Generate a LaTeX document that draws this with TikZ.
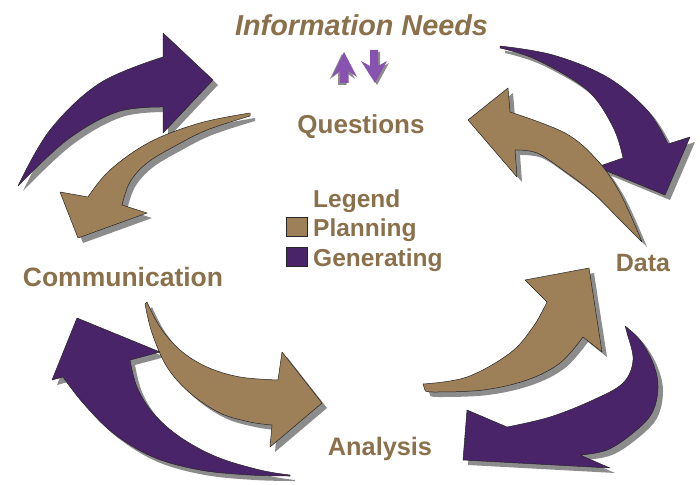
\documentclass[tikz,border=0pt]{standalone}
\usepackage{fontspec}
\setmainfont{Liberation Sans}
\definecolor{textc}{RGB}{138,113,76}
\definecolor{tanc}{RGB}{157,127,88}
\definecolor{purc}{RGB}{74,36,104}
\definecolor{lpurc}{RGB}{136,82,176}
\definecolor{shdc}{RGB}{140,140,140}
\tikzset{
  shd/.style={fill=shdc},
  planarrow/.style={fill=tanc,draw=black!85,line width=0.5pt,line join=round},
  genarrow/.style={fill=purc,draw=black!85,line width=0.5pt,line join=round},
  smallarrow/.style={fill=lpurc},
  lbl/.style={text=textc,font=\bfseries\fontsize{26}{28}\selectfont,inner sep=0pt,anchor=base},
  leg/.style={text=textc,font=\bfseries\fontsize{24.5}{26}\selectfont,inner sep=0pt,anchor=base west},
  legbox/.style={draw=black!85,line width=0.6pt}
}
% top-left purple
\newcommand\DrawArrA[1]{\path[#1] plot[smooth,tension=.6] coordinates {(18,186)(50,130)(100,83)(163,57)} -- (163,33) -- (213,80) -- (163,133) -- plot[smooth,tension=.6] coordinates {(163,107)(117,112)(67,140)(18,186)} -- cycle;}
% top-left tan
\newcommand\DrawArrB[1]{\path[#1] plot[smooth,tension=.6] coordinates {(250,113)(200,123)(150,142)(110,170)(88,197)} -- (60,192) -- (78,238) -- (147,213) -- plot[smooth,tension=.6] coordinates {(122,205)(130,182)(147,163)(175,146)(207,130)(250,116)} -- cycle;}
% top-right purple
\newcommand\DrawArrC[1]{\path[#1] plot[smooth,tension=.6] coordinates {(500,46)(553,55)(607,77)(647,110)(668,144)} -- (690,137) -- (665,195) -- (597,167) -- plot[smooth,tension=.6] coordinates {(623,158)(613,127)(587,90)(537,60)(500,48)} -- cycle;}
% top-right tan
\newcommand\DrawArrD[1]{\path[#1] plot[smooth,tension=.6] coordinates {(642,242)(620,193)(597,160)(565,133)(510,112)} -- (508,88) -- (468,120) -- (517,177) -- plot[smooth,tension=.6] coordinates {(515,150)(537,153)(563,170)(593,193)(620,220)(642,242)} -- cycle;}
% bottom-right tan
\newcommand\DrawArrE[1]{\path[#1] plot[smooth,tension=.6] coordinates {(423,384)(467,377)(510,353)(533,327)(547,302)} -- (525,280) -- (589,268) -- (602,352) -- plot[smooth,tension=.6] coordinates {(583,337)(560,363)(527,380)(483,390)(433,392)(425,390)} -- cycle;}
% bottom-right purple
\newcommand\DrawArrF[1]{\path[#1] plot[smooth,tension=.6] coordinates {(625,326)(640,340)(653,363)(658,387)(652,413)(633,433)(607,450)(580,455)} -- (610,468) -- (463,460) -- (467,410) -- plot[smooth,tension=.6] coordinates {(507,427)(550,417)(593,400)(623,383)(633,360)(627,333)(625,326)} -- cycle;}
% bottom-left tan
\newcommand\DrawArrG[1]{\path[#1] plot[smooth,tension=.6] coordinates {(147,302)(160,327)(180,350)(207,367)(240,377)(278,380)} -- (282,352) -- (322,403) -- (270,447) -- plot[smooth,tension=.6] coordinates {(272,425)(250,422)(220,413)(190,393)(167,367)(152,333)(145,304)} -- cycle;}
% bottom-left purple
\newcommand\DrawArrH[1]{\path[#1] plot[smooth,tension=.6] coordinates {(290,475)(260,470)(217,457)(180,437)(153,413)(137,387)(130,360)} -- (160,352) -- (77,318) -- (52,380) -- plot[smooth,tension=.6] coordinates {(63,377)(83,403)(113,433)(153,457)(200,470)(250,475)(290,476)} -- cycle;}
% small arrows
\newcommand\DrawUp[1]{\path[#1] (344,52) -- (357,77) -- (348.5,71) -- (348.5,83) -- (340,83) -- (340,71) -- (332,77) -- cycle;}
\newcommand\DrawDown[1]{\path[#1] (375,83) -- (387,61) -- (378,66) -- (378,50) -- (370,50) -- (370,66) -- (361,61) -- cycle;}
\begin{document}
\begin{tikzpicture}[x=1pt,y=-1pt]
\useasboundingbox (0,0) rectangle (700,484);
\fill[white] (0,0) rectangle (700,484);
% shadows
\foreach \m in {\DrawArrA,\DrawArrB,\DrawArrC,\DrawArrD,\DrawArrE,\DrawArrF,\DrawArrG,\DrawArrH}{\m{shd,shift={(5,5)}}}
\DrawUp{shd,shift={(-2,2)}}
\DrawDown{shd,shift={(2,2)}}
% arrows
\DrawArrA{genarrow}
\DrawArrB{planarrow}
\DrawArrC{genarrow}
\DrawArrD{planarrow}
\DrawArrE{planarrow}
\DrawArrF{genarrow}
\DrawArrG{planarrow}
\DrawArrH{genarrow}
\DrawUp{smallarrow}
\DrawDown{smallarrow}
% labels
\node[lbl,font=\bfseries\itshape\fontsize{28.8}{30}\selectfont] (info) at (361.5,36) {Information Needs};
\node[lbl] (questions) at (361,133) {Questions};
\node[lbl,font=\bfseries\fontsize{26.5}{28}\selectfont] (comm) at (123,286) {Communication};
\node[lbl,font=\bfseries\fontsize{25}{27}\selectfont] (data) at (643,271) {Data};
\node[lbl,font=\bfseries\fontsize{25.3}{27}\selectfont] (analysis) at (380,455) {Analysis};
\node[leg] (legend) at (313,207) {Legend};
\node[leg] (planning) at (313,236.5) {Planning};
\node[leg] (generating) at (313,266) {Generating};
\path[legbox,fill=tanc] (286,217) rectangle (307,236);
\path[legbox,fill=purc] (286,247) rectangle (307,266);
\end{tikzpicture}
\end{document}
